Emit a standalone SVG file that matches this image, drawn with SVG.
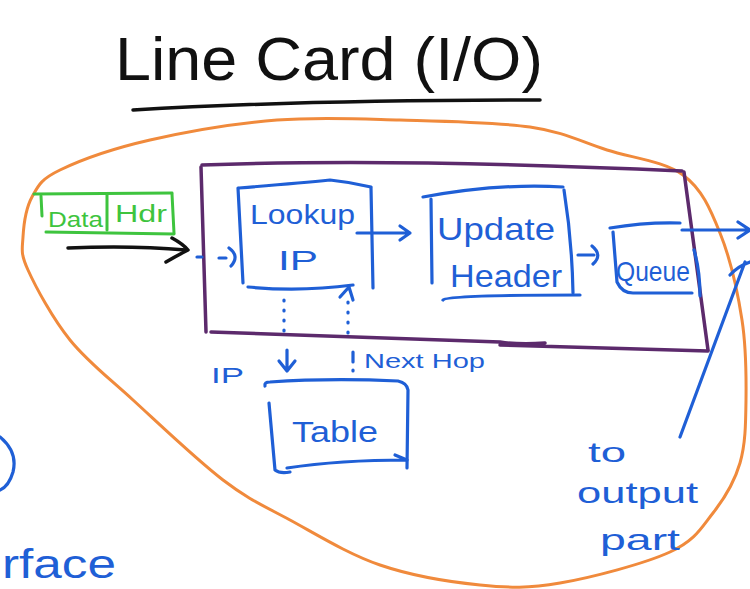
<svg xmlns="http://www.w3.org/2000/svg" width="750" height="589" viewBox="0 0 750 589">
<defs>
<style>
.b{fill:none;stroke:#1f5fd6;stroke-width:3.2;stroke-linecap:round;stroke-linejoin:round}
.dot{fill:none;stroke:#1f5fd6;stroke-width:3.2;stroke-linecap:round;stroke-dasharray:1 9}
.g{fill:none;stroke:#3ec43e;stroke-width:3;stroke-linecap:round;stroke-linejoin:round}
.p{fill:none;stroke:#5c2a6c;stroke-width:3.5;stroke-linecap:round;stroke-linejoin:round}
.o{fill:none;stroke:#f08a3c;stroke-width:3;stroke-linecap:round;stroke-linejoin:round}
.k{fill:none;stroke:#111;stroke-width:3.5;stroke-linecap:round;stroke-linejoin:round}
.tb{fill:#1f5fd6;font-family:"Liberation Sans",Arial,sans-serif}
.tg{fill:#3ec43e;font-family:"Liberation Sans",Arial,sans-serif}
.tk{fill:#111;font-family:"Liberation Sans",Arial,sans-serif}
</style>
</defs>
<rect width="750" height="589" fill="#fff"/>

<g id="title">
<text class="tk" x="115" y="80" font-size="62" textLength="428" lengthAdjust="spacingAndGlyphs">Line Card (I/O)</text>
<path class="k" d="M133,110 Q300,100 540,100"/>
</g>

<g id="line-card">
<path class="o" d="M400,120 C442.2,121.2 495.5,122 530,127 C564.5,132 581.5,142 607,150 C632.5,158 664.2,161.2 683,175 C701.8,188.8 710.2,208.8 720,233 C729.8,257.2 737.7,292.2 742,320 C746.3,347.8 746.3,376.2 746,400 C745.7,423.8 745.5,444.2 740,463 C734.5,481.8 724.7,498.2 713,513 C701.3,527.8 695.5,540.3 670,552 C644.5,563.7 591.7,577.5 560,583 C528.3,588.5 510,588 480,585 C450,582 411.7,575.8 380,565 C348.3,554.2 316.2,534.2 290,520 C263.8,505.8 249.2,500 223,480 C196.8,460 158.5,423.3 133,400 C107.5,376.7 87.5,361.7 70,340 C52.5,318.3 35.8,287.2 28,270 C20.2,252.8 22.3,249.2 23,237 C23.7,224.8 25.8,208.2 32,197 C38.2,185.8 40.3,179.5 60,170 C79.7,160.5 113.8,148.3 150,140 C186.2,131.7 235.3,123.3 277,120 C318.7,116.7 357.8,118.8 400,120 Z"/>
</g>

<g id="forwarding-engine">
<path class="p" d="M202,165 Q400,158 682,171"/>
<path class="p" d="M201,167 L206,332"/>
<path class="p" d="M684,172 L708,350"/>
<path class="p" d="M211,332 Q450,340 500,342 Q520,345 545,343 M500,345 L708,351"/>
</g>

<g id="packet">
<path class="g" d="M34,194 L172,193"/>
<path class="g" d="M41,196 L42,216"/>
<path class="g" d="M107,194 L107,230"/>
<path class="g" d="M172,194 L174,233"/>
<path class="g" d="M46,232 L174,234"/>
<text class="tg" x="48" y="227" font-size="22" textLength="55" lengthAdjust="spacingAndGlyphs">Data</text>
<text class="tg" x="115" y="222" font-size="23" textLength="52" lengthAdjust="spacingAndGlyphs">Hdr</text>
</g>

<g id="lookup-ip">
<path class="b" d="M239,188 Q300,183 330,180 Q350,182 371,187"/>
<path class="b" d="M238,188 L243,283"/>
<path class="b" d="M371,188 L373,288"/>
<path class="b" d="M248,287 Q300,292 353,285"/>
<text class="tb" x="250" y="224" font-size="28" textLength="105" lengthAdjust="spacingAndGlyphs">Lookup</text>
<text class="tb" x="278" y="270" font-size="28" textLength="40" lengthAdjust="spacingAndGlyphs">IP</text>
</g>

<g id="update-header">
<path class="b" d="M423,197 Q500,183 563,187"/>
<path class="b" d="M431,199 L432,283"/>
<path class="b" d="M564,190 Q572,240 573,293"/>
<path class="b" d="M443,300 Q446,295 580,295"/>
<text class="tb" x="437" y="240" font-size="32" textLength="118" lengthAdjust="spacingAndGlyphs">Update</text>
<text class="tb" x="450" y="287" font-size="32" textLength="112" lengthAdjust="spacingAndGlyphs">Header</text>
</g>

<g id="queue">
<path class="b" d="M610,228 Q645,222 680,223"/>
<path class="b" d="M613,232 L617,282 Q622,293 633,293 L692,293"/>
<path class="b" d="M694,250 Q700,270 700,296"/>
<text class="tb" x="616" y="281" font-size="28" textLength="74" lengthAdjust="spacingAndGlyphs">Queue</text>
</g>

<g id="table">
<path class="b" d="M265,386 Q264,382 270,382 Q330,378 398,381 Q407,383 408,390 L407,468"/>
<path class="b" d="M269,403 L275,470 Q280,474 290,472"/>
<path class="b" d="M287,468 Q340,460 407,460 M395,455 L407,460"/>
<text class="tb" x="292" y="442" font-size="30" textLength="86" lengthAdjust="spacingAndGlyphs">Table</text>
</g>

<g id="labels">
<text class="tb" x="211" y="383" font-size="22" textLength="33" lengthAdjust="spacingAndGlyphs">IP</text>
<text class="tb" x="364" y="368" font-size="21" textLength="121" lengthAdjust="spacingAndGlyphs">Next Hop</text>
<text class="tb" x="588" y="462" font-size="28" textLength="38" lengthAdjust="spacingAndGlyphs">to</text>
<text class="tb" x="577" y="503" font-size="30" textLength="121" lengthAdjust="spacingAndGlyphs">output</text>
<text class="tb" x="600" y="550" font-size="30" textLength="80" lengthAdjust="spacingAndGlyphs">part</text>
<text class="tb" x="2" y="578" font-size="40" textLength="114" lengthAdjust="spacingAndGlyphs">rface</text>
<path class="b" d="M0,437 Q18,452 13,472 Q9,486 0,490"/>
</g>

<g id="connectors">
<path class="k" d="M68,248 Q130,245 186,250"/>
<path class="k" d="M172,238 Q183,244 188,250 Q178,255 166,262"/>
<path class="b" d="M197,257 L202,257 M219,258 L226,258 M229,248 Q240,256 231,266"/>
<path class="b" d="M357,233 L408,233 M400,226 L410,233 L400,240"/>
<path class="b" d="M578,255 L594,255 M592,246 Q603,255 593,264"/>
<path class="b" d="M682,230 L748,230 M738,222 L750,230 L738,238"/>
<path class="b" d="M680,437 L745,262 M730,275 Q738,266 750,262"/>
<path class="dot" d="M284,300 L284,340"/>
<path class="b" d="M287,350 L287,370 M279,361 L287,371 L295,361"/>
<path class="dot" d="M348,302 L348,340"/>
<path class="b" d="M340,297 L349,287 L353,300"/>
<path class="b" d="M353,352 L353,362 M353,370 L353,371"/>
</g>
</svg>
